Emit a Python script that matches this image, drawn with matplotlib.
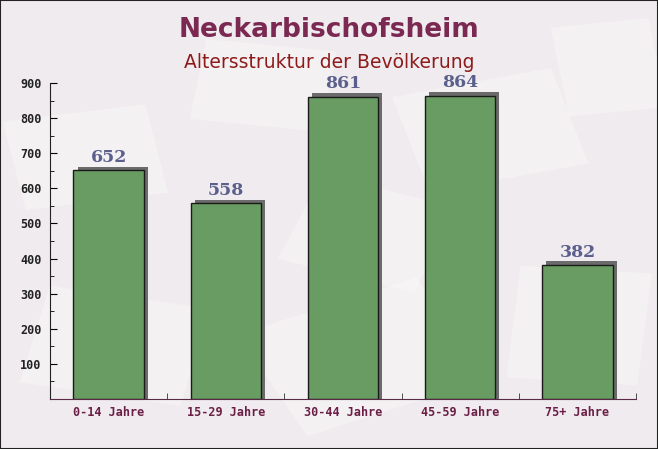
import matplotlib
matplotlib.use("Agg")
import matplotlib.pyplot as plt
import numpy as np
from matplotlib.patches import Rectangle
import matplotlib.transforms as mtransforms

title = "Neckarbischofsheim"
subtitle = "Altersstruktur der Bevölkerung"
categories = ["0-14 Jahre", "15-29 Jahre", "30-44 Jahre", "45-59 Jahre", "75+ Jahre"]
values = [652, 558, 861, 864, 382]
yticks = [100, 200, 300, 400, 500, 600, 700, 800, 900]

fig = plt.figure(figsize=(6.58, 4.49), dpi=100)
fig.patch.set_facecolor("#efebee")

# background axes with faint decorative envelope shapes
bg = fig.add_axes([0, 0, 1, 1], zorder=0)
bg.set_xlim(0, 1)
bg.set_ylim(0, 1)
bg.axis("off")
deco = [(0.02, 0.55, 0.22, 0.2, 10), (0.30, 0.72, 0.2, 0.18, -8), (0.62, 0.60, 0.25, 0.22, 15),
        (0.05, 0.12, 0.25, 0.22, -12), (0.40, 0.08, 0.3, 0.25, 25), (0.78, 0.15, 0.2, 0.25, -5),
        (0.85, 0.75, 0.15, 0.2, 8), (0.45, 0.38, 0.22, 0.2, -20)]
for (dx, dy, w, h, ang) in deco:
    tr = mtransforms.Affine2D().rotate_deg_around(dx + w / 2, dy + h / 2, ang) + bg.transAxes
    bg.add_patch(Rectangle((dx, dy), w, h, transform=tr, facecolor="#faf8f8",
                           edgecolor="none", alpha=0.5))
bg.add_patch(Rectangle((0, 0), 1, 1, transform=bg.transAxes, fill=False,
                       edgecolor="#222222", linewidth=1.5, clip_on=False))

ax = fig.add_axes([50/658, 50/449, 586/658, 316/449], zorder=1)
ax.set_facecolor("none")
x = np.arange(len(categories))
bw = 0.6
# shadow
ax.bar(x + 0.035, values, width=bw, bottom=0, color="#6b6b6b", zorder=1)
ax.bar(x + 0.035, [10]*len(x), width=bw, bottom=np.array(values) - 0.1, color="#6b6b6b", zorder=1)
ax.bar(x, values, width=bw, color="#699c62", edgecolor="#1a1a1a", linewidth=1.0, zorder=2)
for xi, v in zip(x, values):
    ax.text(xi, v + 12, str(v), ha="center", va="bottom", fontsize=12.5,
            fontweight="bold", family="DejaVu Serif", color="#5b5f8c", zorder=3)

ax.set_xlim(-0.5, len(categories) - 0.5)
ax.set_ylim(0, 900)
ax.set_yticks(yticks)
ax.set_yticks(np.arange(50, 900, 100), minor=True)
ax.set_xticks(x)
ax.set_xticklabels(categories)
ax.set_xticks(np.arange(-0.5, len(categories)), minor=True)
ax.tick_params(axis="x", which="major", length=0, pad=5, labelsize=8.5, labelcolor="#6b1f47")
ax.tick_params(axis="x", which="minor", direction="in", length=4, color="#333333")
ax.tick_params(axis="y", which="major", direction="in", length=5, labelsize=8.5,
               labelcolor="#222222", pad=6)
ax.tick_params(axis="y", which="minor", direction="in", length=3)
for lab in ax.get_xticklabels() + ax.get_yticklabels():
    lab.set_family("DejaVu Sans Mono")
    lab.set_fontweight("bold")
for s in ["top", "right"]:
    ax.spines[s].set_visible(False)
ax.spines["left"].set_color("#222222")
ax.spines["bottom"].set_color("#5a2a44")

fig.text(0.5, 1 - 30/449, title, ha="center", va="center", fontsize=19,
         fontweight="bold", color="#7b2952", family="DejaVu Sans", zorder=3)
fig.text(0.5, 1 - 62/449, subtitle, ha="center", va="center", fontsize=13.5,
         color="#8e1b1b", family="DejaVu Sans", zorder=3)

fig.savefig("out.png", dpi=100, facecolor=fig.get_facecolor())
